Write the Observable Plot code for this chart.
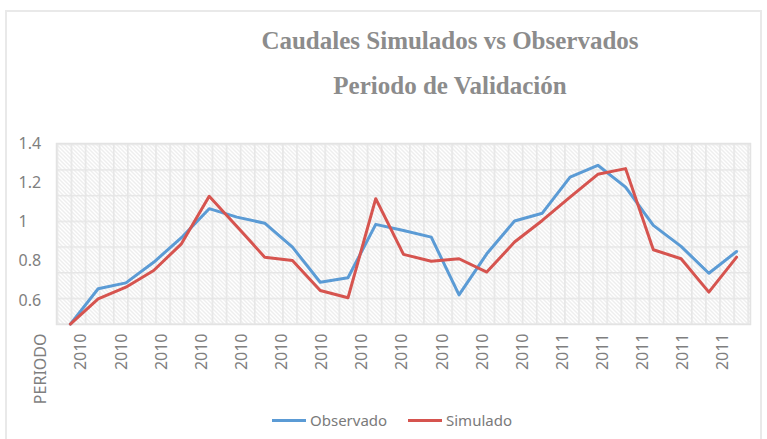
<!DOCTYPE html>
<html>
<head>
<meta charset="utf-8">
<script src="https://cdn.jsdelivr.net/npm/d3@7"></script>
<script src="https://cdn.jsdelivr.net/npm/@observablehq/plot@0.6"></script>
<style>
  body { margin: 0; background: #fff; }
  #wrap { position: relative; width: 767px; height: 439px; overflow: hidden; font-family: "Noto Sans", sans-serif; }
  #border { position: absolute; left: 5px; top: 10px; width: 757px; height: 470px; border: 2px solid #e9e9e9; box-sizing: border-box; }
  #title { position: relative; height: 120px; }
  .t { position: absolute; left: 0; width: 900px; text-align: center; font-family: "Liberation Serif", serif; font-weight: bold; font-size: 25px; line-height: 30px; color: #8c8c8c; white-space: nowrap; }
  #chart { position: relative; height: 290px; }
  #legend { position: relative; height: 29px; }
  .sw { position: absolute; top: 9px; width: 34px; height: 3px; }
  .lt { position: absolute; top: 0; font-size: 15px; line-height: 20px; color: #7a7a7a; }
</style>
</head>
<body>
<div id="wrap">
  <div id="border"></div>
  <div id="title">
    <div class="t" id="t1" style="top:26px"></div>
    <div class="t" id="t2" style="top:71px"></div>
  </div>
  <div id="chart"></div>
  <div id="legend"></div>
</div>
<script>
// ---- data ----
const titleLines = ["Caudales Simulados vs Observados", "Periodo de Validación"];
const seriesNames = ["Observado", "Simulado"];
const seriesColors = ["#5b9bd5", "#d6544f"];
const observado = [0.48, 0.66, 0.69, 0.795, 0.92, 1.068, 1.025, 0.994, 0.872, 0.693, 0.716, 0.988, 0.957, 0.923, 0.629, 0.838, 1.005, 1.045, 1.229, 1.289, 1.178, 0.983, 0.876, 0.739, 0.85];
const simulado  = [0.48, 0.609, 0.668, 0.753, 0.889, 1.131, 0.977, 0.821, 0.804, 0.651, 0.614, 1.119, 0.835, 0.80, 0.813, 0.745, 0.898, 1.008, 1.127, 1.243, 1.272, 0.859, 0.813, 0.643, 0.821];
const periodLabels = ["PERIODO",
  "2010","2010","2010","2010","2010","2010","2010","2010","2010","2010","2010","2010",
  "2011","2011","2011","2011","2011"];
const yTicks = [0.6, 0.8, 1, 1.2, 1.4];

// ---- layout helpers ----
document.getElementById("t1").textContent = titleLines[0];
document.getElementById("t2").textContent = titleLines[1];

const obsRows = observado.map((v, i) => ({i, v}));
const simRows = simulado.map((v, i) => ({i, v}));
// category labels are spread evenly along the axis (label spacing differs from point spacing in the original)
const labelRows = periodLabels.map((label, j) => ({pos: -0.865 + 1.4454 * j, label}));

const svg = Plot.plot({
  width: 767,
  height: 290,
  marginLeft: 56,
  marginRight: 17,
  marginTop: 23,
  marginBottom: 86,
  x: {domain: [-0.5, 24.5], axis: null},
  y: {domain: [0.478, 1.4], axis: null},
  style: {color: "#7f7f7f", fontFamily: "Noto Sans, sans-serif", background: "transparent", overflow: "visible"},
  marks: [
    Plot.frame({fill: "url(#hatch)"}),
    Plot.frame({fill: "url(#grid)", stroke: "#e3e3e3", strokeWidth: 1.5}),
    Plot.text(yTicks, {y: d => d, text: d => String(d), frameAnchor: "left", textAnchor: "start", dx: -38, fontSize: 16, fill: "#7f7f7f"}),
    Plot.text(labelRows, {x: "pos", text: "label", frameAnchor: "bottom", rotate: -90, textAnchor: "end", dy: 9, fontSize: 16, fill: "#7f7f7f"}),
    Plot.line(obsRows, {x: "i", y: "v", stroke: seriesColors[0], strokeWidth: 3}),
    Plot.line(simRows, {x: "i", y: "v", stroke: seriesColors[1], strokeWidth: 3})
  ]
});

const defs = d3.select(svg).insert("defs", ":first-child");
const hatch = defs.append("pattern").attr("id", "hatch").attr("patternUnits", "userSpaceOnUse")
  .attr("width", 4).attr("height", 4);
hatch.append("rect").attr("width", 4).attr("height", 4).attr("fill", "#ffffff");
hatch.append("path").attr("d", "M-1,-1L5,5M3,-1L5,1M-1,3L1,5").attr("stroke", "#dcdcdc").attr("stroke-width", 1);
const grid = defs.append("pattern").attr("id", "grid").attr("patternUnits", "userSpaceOnUse")
  .attr("x", 56).attr("y", 23).attr("width", 14.1).attr("height", 25.7);
grid.append("path").attr("d", "M0,0.8H14.1M0.8,0V25.7").attr("stroke", "#e6e6e6").attr("stroke-width", 1.6).attr("fill", "none");

document.getElementById("chart").appendChild(svg);

// ---- legend ----
const legend = d3.select("#legend");
const legendX = [[272, 310], [408, 446]];
seriesNames.forEach((name, k) => {
  legend.append("div").attr("class", "sw").style("left", legendX[k][0] + "px").style("background", seriesColors[k]);
  legend.append("div").attr("class", "lt").style("left", legendX[k][1] + "px").text(name);
});
</script>
</body>
</html>
